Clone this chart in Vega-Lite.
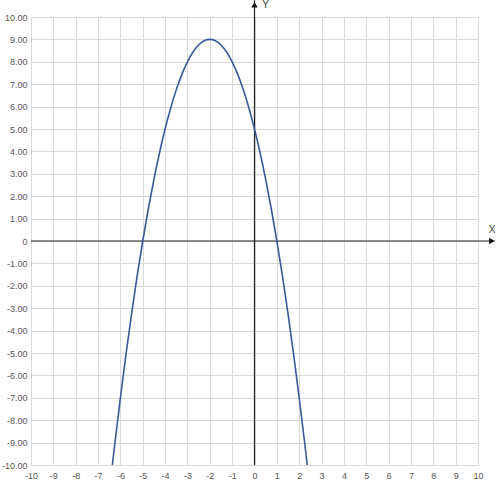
{
  "$schema": "https://vega.github.io/schema/vega-lite/v6.json",
  "width": 447,
  "height": 448,
  "autosize": "none",
  "padding": {"left": 31, "top": 17, "right": 22, "bottom": 23},
  "background": "white",
  "datasets": {
    "curve": [
      {"x": -6.36, "y": -10}, {"x": -6.25, "y": -9.06}, {"x": -6, "y": -7},
      {"x": -5.75, "y": -5.06}, {"x": -5.5, "y": -3.25}, {"x": -5.25, "y": -1.56},
      {"x": -5, "y": 0}, {"x": -4.75, "y": 1.44}, {"x": -4.5, "y": 2.75},
      {"x": -4.25, "y": 3.94}, {"x": -4, "y": 5}, {"x": -3.75, "y": 5.94},
      {"x": -3.5, "y": 6.75}, {"x": -3.25, "y": 7.44}, {"x": -3, "y": 8},
      {"x": -2.75, "y": 8.44}, {"x": -2.5, "y": 8.75}, {"x": -2.25, "y": 8.94},
      {"x": -2, "y": 9}, {"x": -1.75, "y": 8.94}, {"x": -1.5, "y": 8.75},
      {"x": -1.25, "y": 8.44}, {"x": -1, "y": 8}, {"x": -0.75, "y": 7.44},
      {"x": -0.5, "y": 6.75}, {"x": -0.25, "y": 5.94}, {"x": 0, "y": 5},
      {"x": 0.25, "y": 3.94}, {"x": 0.5, "y": 2.75}, {"x": 0.75, "y": 1.44},
      {"x": 1, "y": 0}, {"x": 1.25, "y": -1.56}, {"x": 1.5, "y": -3.25},
      {"x": 1.75, "y": -5.06}, {"x": 2, "y": -7}, {"x": 2.25, "y": -9.06},
      {"x": 2.36, "y": -10}
    ],
    "axes": [
      {"name": "X", "x1": -10, "x2": 10.75, "y1": 0, "y2": 0},
      {"name": "Y", "x1": 0, "x2": 0, "y1": -10, "y2": 10.75}
    ],
    "arrows": [
      {"name": "X", "x": 10.62, "y": 0, "shape": "triangle-right", "lx": 10.63, "ly": 0.5},
      {"name": "Y", "x": 0, "y": 10.55, "shape": "triangle-up", "lx": 0.5, "ly": 10.55}
    ]
  },
  "encoding": {
    "x": {
      "type": "quantitative",
      "scale": {"domain": [-10, 10], "nice": false, "zero": false},
      "axis": {
        "values": [-10, -9, -8, -7, -6, -5, -4, -3, -2, -1, 0, 1, 2, 3, 4, 5, 6, 7, 8, 9, 10],
        "labelExpr": "'' + datum.value",
        "labelOverlap": false,
        "labelBound": false,
        "labelFlush": false,
        "title": null,
        "domain": false,
        "ticks": false,
        "labelPadding": 6,
        "gridColor": "#d9d9d9",
        "labelFont": "Liberation Sans",
        "labelFontSize": 9,
        "labelColor": "#555"
      }
    },
    "y": {
      "type": "quantitative",
      "scale": {"domain": [-10, 10], "nice": false, "zero": false},
      "axis": {
        "values": [-10, -9, -8, -7, -6, -5, -4, -3, -2, -1, 0, 1, 2, 3, 4, 5, 6, 7, 8, 9, 10],
        "labelExpr": "datum.value == 0 ? '0' : replace(format(datum.value, '.2f'), '\u2212', '-')",
        "labelOverlap": false,
        "labelBound": false,
        "labelFlush": false,
        "title": null,
        "domain": false,
        "ticks": false,
        "labelPadding": 4,
        "gridColor": "#d9d9d9",
        "labelFont": "Liberation Sans",
        "labelFontSize": 9,
        "labelColor": "#555"
      }
    }
  },
  "layer": [
    {
      "data": {"name": "axes"},
      "mark": {"type": "rule", "color": "#222", "strokeWidth": 1.2, "clip": false},
      "encoding": {
        "x": {"field": "x1", "type": "quantitative"},
        "x2": {"field": "x2"},
        "y": {"field": "y1", "type": "quantitative"},
        "y2": {"field": "y2"}
      }
    },
    {
      "data": {"name": "arrows"},
      "mark": {"type": "point", "filled": true, "color": "#111", "size": 40, "opacity": 1, "clip": false},
      "encoding": {
        "x": {"field": "x", "type": "quantitative"},
        "y": {"field": "y", "type": "quantitative"},
        "shape": {"field": "shape", "type": "nominal", "scale": null}
      }
    },
    {
      "data": {"name": "arrows"},
      "mark": {"type": "text", "font": "Liberation Sans", "fontSize": 10, "color": "#444", "clip": false},
      "encoding": {
        "x": {"field": "lx", "type": "quantitative"},
        "y": {"field": "ly", "type": "quantitative"},
        "text": {"field": "name"}
      }
    },
    {
      "data": {"name": "curve"},
      "mark": {"type": "line", "color": "#3b5998", "strokeWidth": 1.6, "interpolate": "monotone"},
      "encoding": {
        "x": {"field": "x", "type": "quantitative"},
        "y": {"field": "y", "type": "quantitative"}
      }
    }
  ],
  "config": {"view": {"stroke": null}}
}
